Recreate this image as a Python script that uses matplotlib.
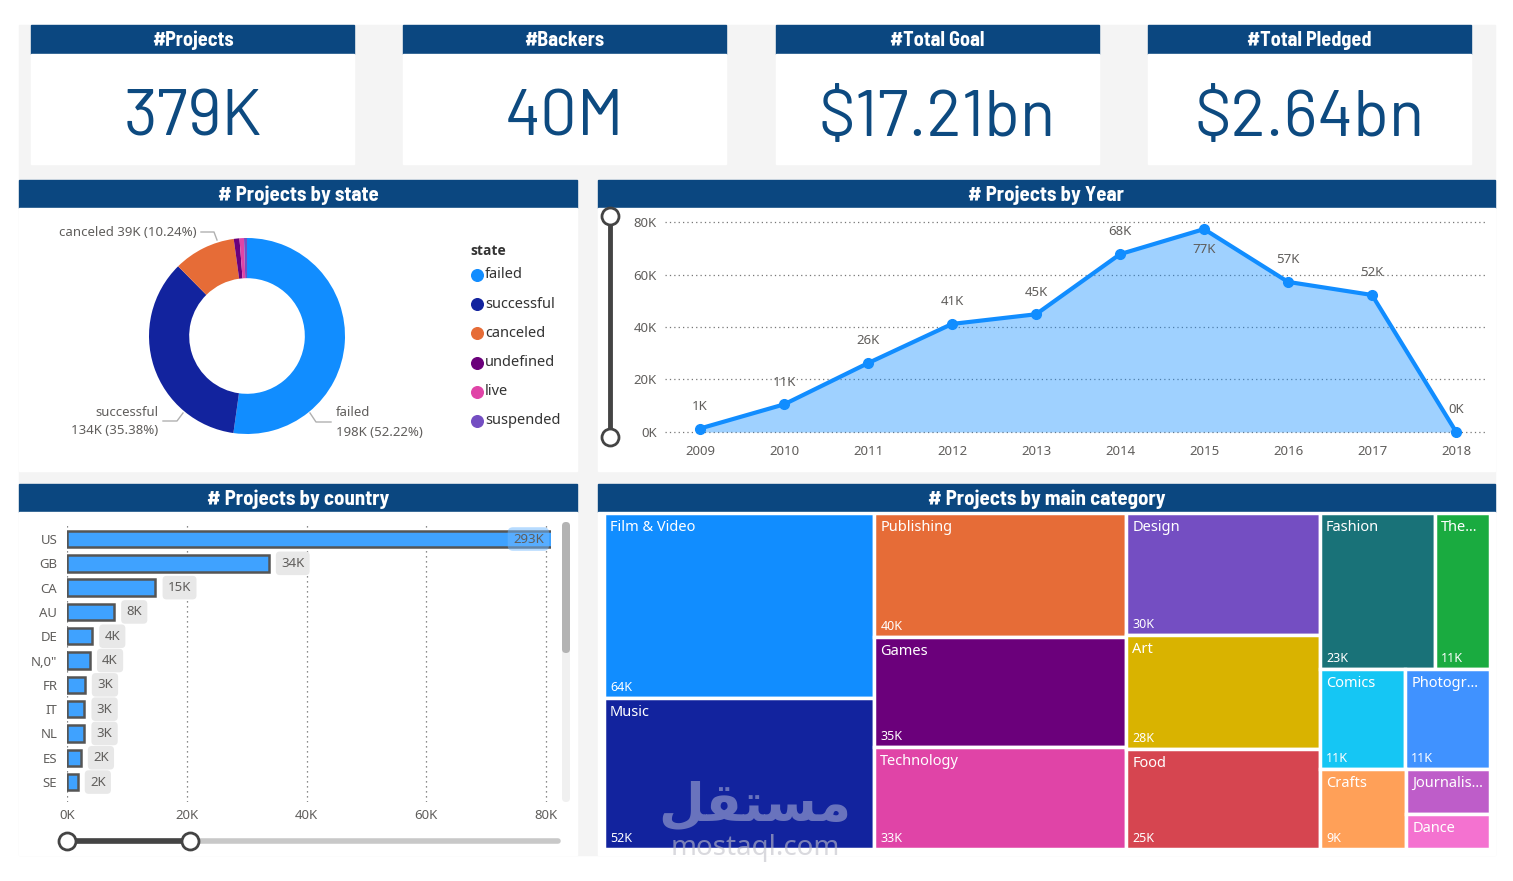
import matplotlib
matplotlib.use('Agg')
import matplotlib.pyplot as plt
from matplotlib.patches import Rectangle, FancyBboxPatch

W, H = 1513, 881

# KPI 卡片
kpi_titles = ['#Projects', '#Backers', '#Total Goal', '#Total Pledged']
kpi_values = ['379K', '40M', '$17.21bn', '$2.64bn']

# 状态环形图
state_labels = ['failed', 'successful', 'canceled', 'undefined', 'live', 'suspended']
state_counts = [197719, 133956, 38779, 3562, 2799, 1846]

# 年份折线
years = [2009, 2010, 2011, 2012, 2013, 2014, 2015, 2016, 2017, 2018]
year_counts = [1329, 10519, 26237, 41165, 44851, 67745, 77300, 57184, 52200, 124]

# 国家条形图
countries = ['US', 'GB', 'CA', 'AU', 'DE', 'N,0"', 'FR', 'IT', 'NL', 'ES', 'SE']
country_counts = [292627, 33672, 14756, 7839, 4171, 3797, 2939, 2878, 2868, 2276, 1757]

# 主类别树图
categories = ['Film & Video', 'Music', 'Publishing', 'Games', 'Technology', 'Design', 'Art',
              'Food', 'Fashion', 'The...', 'Comics', 'Photogr...', 'Crafts', 'Journalis...', 'Dance']
category_counts = [63585, 51918, 39874, 35231, 32569, 30070, 28153, 24602, 22816, 10913,
                   10819, 10779, 8809, 4755, 3768]

BLUE = '#0b4780'
GRAY_TXT = '#605e5c'
HEAD_FONT = ['Barlow Semi Condensed', 'Roboto Condensed', 'PT Sans Narrow', 'Archivo Narrow',
             'Liberation Sans Narrow', 'DejaVu Sans']
KPI_FONT = ['Barlow', 'Barlow Semi Condensed', 'Roboto Condensed', 'DejaVu Sans']
BODY_FONT = ['Noto Sans', 'DejaVu Sans']
state_colors = ['#118dff', '#12239e', '#e66c37', '#6b007b', '#e044a7', '#744ec2']
cat_colors = ['#118dff', '#12239e', '#e66c37', '#6b007b', '#e044a7', '#744ec2', '#d9b300',
              '#d64550', '#197278', '#1aab40', '#15c6f4', '#4092ff', '#ffa058', '#be5dc9', '#f472d0']


def box(x0, y0, x1, y1):
    # 像素坐标 -> figure 坐标
    return [x0 / W, 1 - y1 / H, (x1 - x0) / W, (y1 - y0) / H]


def kfmt(v):
    return f'{round(v / 1000):.0f}K'


# d3 风格的 squarify（黄金比例）
def squarify(values, x0, y0, x1, y1, ratio=(1 + 5 ** 0.5) / 2):
    rects = []
    total = float(sum(values))
    i0, n = 0, len(values)
    while i0 < n:
        dx, dy = x1 - x0, y1 - y0
        s = values[i0]
        vmin = vmax = s
        alpha = max(dy / dx, dx / dy) / (total * ratio)
        beta = s * s * alpha
        best = max(vmax / beta, beta / vmin)
        i1 = i0 + 1
        while i1 < n:
            v = values[i1]
            s2 = s + v
            lo, hi = min(vmin, v), max(vmax, v)
            beta = s2 * s2 * alpha
            r = max(hi / beta, beta / lo)
            if r > best:
                break
            s, vmin, vmax, best = s2, lo, hi, r
            i1 += 1
        row = values[i0:i1]
        if dx < dy:
            h = dy * s / total
            cx = x0
            for v in row:
                w = dx * v / s
                rects.append((cx, y0, w, h))
                cx += w
            y0 += h
        else:
            w = dx * s / total
            cy = y0
            for v in row:
                hh = dy * v / s
                rects.append((x0, cy, w, hh))
                cy += hh
            x0 += w
        total -= s
        i0 = i1
    return rects


fig = plt.figure(figsize=(15.13, 8.81), dpi=100, facecolor='white')
bg = fig.add_axes([0, 0, 1, 1])
bg.set_xlim(0, W)
bg.set_ylim(H, 0)
bg.axis('off')

bg.add_patch(Rectangle((19, 25), 1476, 830, color='#f4f4f4', zorder=0))


def panel(x0, x1, y0, yh, y1, title, size=15):
    bg.add_patch(Rectangle((x0, y0), x1 - x0, yh - y0, color=BLUE, zorder=1))
    bg.add_patch(Rectangle((x0, yh), x1 - x0, y1 - yh, color='white', zorder=1))
    bg.text((x0 + x1) / 2, (y0 + yh) / 2 + 1, title, color='white', fontsize=size,
            fontweight='bold', ha='center', va='center', family=HEAD_FONT, zorder=2)


# KPI 卡片
for i, (t, v) in enumerate(zip(kpi_titles, kpi_values)):
    x0 = [31, 403, 776, 1148][i]
    panel(x0, x0 + 323, 25, 54, 164, t, size=14.5)
    bg.text(x0 + 161.5, 119, v, color='#0d4a80', fontsize=47, ha='center', va='center',
            family=KPI_FONT, zorder=2)

panel(19, 577, 180, 208, 471, '# Projects by state')
panel(598, 1495, 180, 208, 471, '# Projects by Year')
panel(19, 577, 484, 512, 855, '# Projects by country')
panel(598, 1495, 484, 512, 855, '# Projects by main category')

# ---------- 环形图 ----------
ax1 = fig.add_axes(box(127, 216, 367, 456))
ax1.pie(state_counts, colors=state_colors, startangle=90, counterclock=False, radius=1,
        wedgeprops=dict(width=0.41, linewidth=0))
ax1.set_xlim(-1.2245, 1.2245)
ax1.set_ylim(-1.2245, 1.2245)
ax1.set_aspect('equal')
ax1.axis('off')

tot = sum(state_counts)
pct = [c / tot * 100 for c in state_counts]
lab_kw = dict(color=GRAY_TXT, fontsize=9.5, family=BODY_FONT, zorder=3)
bg.text(197, 232, f'{state_labels[2]} {kfmt(state_counts[2])} ({pct[2]:.2f}%)', ha='right', va='center', **lab_kw)
bg.plot([201, 214, 217], [232, 232, 240], color='#b0b0b0', lw=1, zorder=3)
bg.text(158, 412, state_labels[1], ha='right', va='center', **lab_kw)
bg.text(158, 431, f'{kfmt(state_counts[1])} ({pct[1]:.2f}%)', ha='right', va='center', **lab_kw)
bg.plot([163, 177, 183], [421, 421, 413], color='#b0b0b0', lw=1, zorder=3)
bg.text(336, 413, state_labels[0], ha='left', va='center', **lab_kw)
bg.text(336, 432, f'{kfmt(state_counts[0])} ({pct[0]:.2f}%)', ha='left', va='center', **lab_kw)
bg.plot([310, 316, 331], [413, 422, 422], color='#b0b0b0', lw=1, zorder=3)

# 图例
bg.text(470, 251, 'state', fontsize=10, fontweight='bold', color='#333333', va='center',
        family=['Open Sans', 'DejaVu Sans'], zorder=3)
for i, (lab, col) in enumerate(zip(state_labels, state_colors)):
    yy = 275 + i * 29.2
    bg.scatter([477], [yy], s=70, color=col, zorder=3)
    bg.text(485, yy, lab, fontsize=10.5, color='#333333', va='center', family=BODY_FONT, zorder=3)

# ---------- 年份面积折线 ----------
ax2 = fig.add_axes(box(665, 215, 1487, 437))
ax2.fill_between(years, year_counts, color='#118dff', alpha=0.4, lw=0)
ax2.plot(years, year_counts, color='#118dff', lw=3, marker='o', ms=7, zorder=3)
ax2.set_xlim(2008.583, 2018.369)
ax2.set_ylim(-1905, 82667)
ax2.set_xticks(years)
ax2.set_yticks([0, 20000, 40000, 60000, 80000])
ax2.set_yticklabels(['0K', '20K', '40K', '60K', '80K'])
ax2.grid(axis='y', linestyle=(0, (1, 2.5)), color='#777777', lw=0.9)
ax2.set_axisbelow(True)
for s in ax2.spines.values():
    s.set_visible(False)
ax2.tick_params(length=0, labelsize=9.5, labelcolor=GRAY_TXT, pad=6)
for lab in ax2.get_xticklabels() + ax2.get_yticklabels():
    lab.set_family(BODY_FONT)
ax2.patch.set_alpha(0)
peak = max(year_counts)
for x, y in zip(years, year_counts):
    off = -15 if y == peak else 16
    ax2.annotate(kfmt(y), (x, y), xytext=(0, off), textcoords='offset points', ha='center',
                 va='center', fontsize=9.5, color=GRAY_TXT, family=BODY_FONT, annotation_clip=False)

# 左侧纵向滑块
bg.plot([610, 610], [216, 437], color='#444444', lw=3.5, zorder=3)
bg.scatter([610, 610], [216, 437], s=150, facecolor='white', edgecolor='#444444', lw=2, zorder=4)

# ---------- 国家条形图 ----------
ax3 = fig.add_axes(box(67, 522, 551, 802))
ax3.barh(range(len(countries)), country_counts, height=0.68, color='#3fa2ff',
         edgecolor='#555555', lw=1.8, zorder=2)
ax3.set_xlim(0, 80835)
ax3.set_ylim(10.82, -0.7)
ax3.set_yticks(range(len(countries)))
ax3.set_yticklabels(countries)
ax3.set_xticks([0, 20000, 40000, 60000, 80000])
ax3.set_xticklabels(['0K', '20K', '40K', '60K', '80K'])
ax3.grid(axis='x', linestyle=(0, (1, 3)), color='#666666', lw=0.9)
ax3.set_axisbelow(True)
for s in ax3.spines.values():
    s.set_visible(False)
ax3.tick_params(axis='y', length=0, labelsize=9.5, labelcolor=GRAY_TXT, pad=7)
ax3.tick_params(axis='x', length=0, labelsize=9.5, labelcolor=GRAY_TXT, pad=5)
for lab in ax3.get_xticklabels() + ax3.get_yticklabels():
    lab.set_family(BODY_FONT)
ax3.patch.set_alpha(0)
xmax = ax3.get_xlim()[1]
box_kw = dict(boxstyle='round,pad=0.4,rounding_size=0.3', fc='#e8e8e8', ec='none')
for i, v in enumerate(country_counts):
    if v > xmax:
        ax3.text(0.985, i, kfmt(v), transform=ax3.get_yaxis_transform(), ha='right', va='center',
                 fontsize=9.5, color=GRAY_TXT, family=BODY_FONT, zorder=3,
                 bbox=dict(boxstyle='round,pad=0.4', fc='#6fb8ff', ec='none', alpha=0.5))
    else:
        ax3.annotate(kfmt(v), (v, i), xytext=(9, 0), textcoords='offset points', ha='left',
                     va='center', fontsize=9.5, color=GRAY_TXT, family=BODY_FONT, bbox=box_kw, zorder=3)

# 滚动条与横向滑块
bg.add_patch(FancyBboxPatch((562, 522), 8, 280, boxstyle='round,pad=0,rounding_size=4',
                            fc='#f0f0f0', ec='none', zorder=3))
bg.add_patch(FancyBboxPatch((562, 522), 8, 131, boxstyle='round,pad=0,rounding_size=4',
                            fc='#b3b3b3', ec='none', zorder=3))
bg.plot([67, 558], [841, 841], color='#c8c8c8', lw=4, solid_capstyle='round', zorder=3)
bg.plot([67, 190], [841, 841], color='#444444', lw=4, zorder=3)
bg.scatter([67, 190], [841, 841], s=150, facecolor='white', edgecolor='#444444', lw=2, zorder=4)

# ---------- 树图 ----------
TW, TH = 886, 336
ax4 = fig.add_axes(box(604, 513, 604 + TW, 513 + TH))
ax4.set_xlim(0, TW)
ax4.set_ylim(TH, 0)
ax4.axis('off')
cells = squarify(category_counts, 0, 0, TW, TH)
for (x, y, w, h), name, v, col in zip(cells, categories, category_counts, cat_colors):
    ax4.add_patch(Rectangle((x, y), w, h, fc=col, ec='white', lw=2.5))
    ax4.text(x + 6, y + 7, name, color='white', fontsize=10.5, ha='left', va='top',
             family=BODY_FONT, clip_on=True)
    if h > 60:
        ax4.text(x + 6, y + h - 4, kfmt(v), color='white', fontsize=9, ha='left', va='bottom',
                 family=BODY_FONT)

# 水印
fig.text(755 / W, 1 - 805 / H, '\ufede\ufed8\ufe98\ufeb4\ufee3', fontsize=38, fontweight='bold',
         color='#c0c4dc', alpha=0.5, ha='center', va='center', family=['DejaVu Sans'], zorder=5)
fig.text(755 / W, 1 - 848 / H, 'mostaql.com', fontsize=20, color='#c0c0c8', alpha=0.6,
         ha='center', va='center', family=BODY_FONT, zorder=5)

fig.savefig('out.png', dpi=100, facecolor='white')
